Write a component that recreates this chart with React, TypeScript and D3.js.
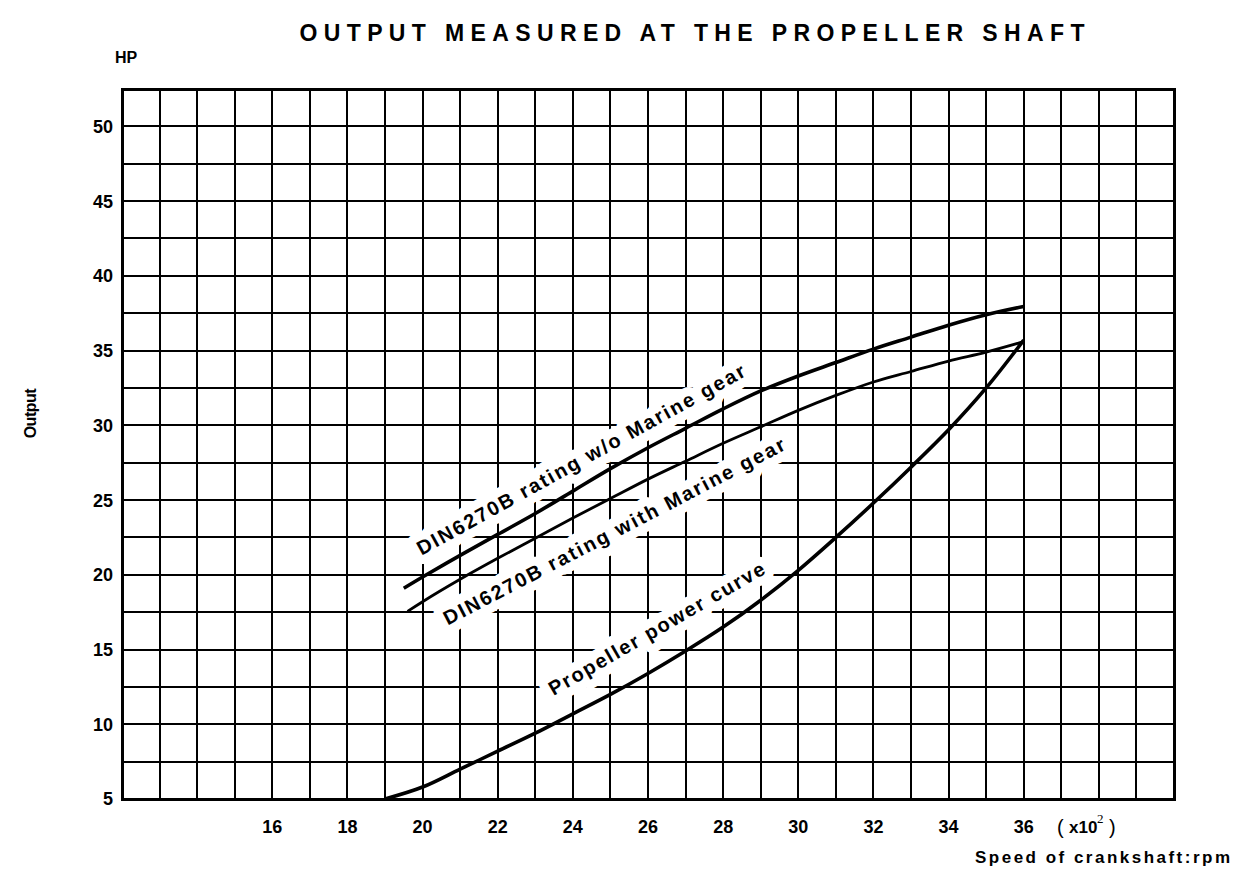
import React from 'react';
import * as d3 from 'd3';

// speed in rpm, output in HP
const withoutGear: [number, number][] = [
  [1950, 19.1], [2000, 19.85], [2100, 21.3], [2200, 22.7], [2300, 24.1], [2400, 25.6],
  [2500, 27.1], [2600, 28.5], [2700, 29.8], [2800, 31.1], [2900, 32.3], [3000, 33.3],
  [3100, 34.2], [3200, 35.1], [3300, 35.9], [3400, 36.7], [3500, 37.4], [3600, 37.95]
];
const withGear: [number, number][] = [
  [1960, 17.55], [2000, 18.2], [2100, 19.7], [2200, 21.1], [2300, 22.45], [2400, 23.8],
  [2500, 25.1], [2600, 26.4], [2700, 27.6], [2800, 28.8], [2900, 29.9], [3000, 31.0],
  [3100, 32.0], [3200, 32.9], [3300, 33.6], [3400, 34.3], [3500, 34.9], [3600, 35.6]
];
const propeller: [number, number][] = [
  [1900, 5.0], [2000, 5.8], [2100, 7.0], [2200, 8.2], [2300, 9.4], [2400, 10.7],
  [2500, 12.0], [2600, 13.4], [2700, 14.9], [2800, 16.5], [2900, 18.3], [3000, 20.3],
  [3100, 22.5], [3200, 24.8], [3300, 27.2], [3400, 29.7], [3500, 32.5], [3600, 35.7]
];

const rpmTicks = [16, 18, 20, 22, 24, 26, 28, 30, 32, 34, 36];
const hpTicks = [5, 10, 15, 20, 25, 30, 35, 40, 45, 50];

// curve labels: baseline middle in data units, angle, drawn length
const curveLabels = [
  { text: 'DIN6270B rating w/o Marine gear', rpm: 2430, hp: 27.3, angle: -29, len: 372 },
  { text: 'DIN6270B rating with Marine gear', rpm: 2518, hp: 22.5, angle: -27.5, len: 382 },
  { text: 'Propeller power curve', rpm: 2632, hp: 16.0, angle: -30, len: 246 }
];

const W = 1255;
const H = 869;
const font = '"Liberation Sans", Arial, Helvetica, sans-serif';
const narrow = '"Liberation Sans Narrow", "Liberation Sans", Arial, sans-serif';

export default function App() {
  const x = d3.scaleLinear().domain([1200, 4000]).range([122, 1174]);
  const y = d3.scaleLinear().domain([5, 52.5]).range([799, 89]);

  const vLines = d3.range(1200, 4001, 100);
  const hLines = d3.range(0, 20).map(i => 5 + i * 2.5);

  const line = d3.line<[number, number]>()
    .x(d => x(d[0]))
    .y(d => y(d[1]))
    .curve(d3.curveCatmullRom);

  const labelProps = (l: typeof curveLabels[0]) => ({
    transform: `translate(${x(l.rpm)},${y(l.hp)}) rotate(${l.angle})`,
    textAnchor: 'middle' as const,
    fontFamily: font,
    fontWeight: 'bold' as const,
    fontSize: 20,
    textLength: l.len,
    lengthAdjust: 'spacing'
  });

  return (
    <svg width={W} height={H} style={{ position: 'absolute', left: 0, top: 0, background: '#fff' }}>
      <rect width={W} height={H} fill="#fff" />

      <text x={692} y={41} textAnchor="middle" fontFamily={font} fontWeight="bold" fontSize={23}
        textLength={785} lengthAdjust="spacing">OUTPUT MEASURED AT THE  PROPELLER SHAFT</text>
      <text x={115} y={63} fontFamily={font} fontWeight="bold" fontSize={16}>HP</text>

      {/* grid */}
      <g stroke="#000" shapeRendering="crispEdges" strokeWidth={2}>
        {vLines.map(v => (
          <line key={'v' + v} x1={Math.round(x(v))} x2={Math.round(x(v))} y1={y(52.5)} y2={y(5)} />
        ))}
        {hLines.map(h => (
          <line key={'h' + h} x1={x(1200)} x2={x(4000)} y1={Math.round(y(h))} y2={Math.round(y(h))} />
        ))}
        <rect x={x(1200)} y={y(52.5)} width={x(4000) - x(1200)} height={y(5) - y(52.5)}
          fill="none" strokeWidth={3} />
      </g>

      {/* white bands behind curve labels */}
      {curveLabels.map(l => (
        <text key={'halo' + l.text} {...labelProps(l)} fill="#fff" stroke="#fff" strokeWidth={18}
          strokeLinejoin="round">{l.text}</text>
      ))}

      {/* curves */}
      <path d={line(withoutGear) || ''} fill="none" stroke="#000" strokeWidth={3.6} />
      <path d={line(withGear) || ''} fill="none" stroke="#000" strokeWidth={2.8} />
      <path d={line(propeller) || ''} fill="none" stroke="#000" strokeWidth={3.6} />

      {curveLabels.map(l => (
        <text key={l.text} {...labelProps(l)} fill="#000">{l.text}</text>
      ))}

      {/* y ticks */}
      {hpTicks.map(t => (
        <text key={'yt' + t} x={113} y={y(t)} dy="0.36em" textAnchor="end" fontFamily={narrow}
          fontWeight="bold" fontSize={18}>{t}</text>
      ))}
      <text transform={`translate(36,${y(30.8)}) rotate(-90)`} textAnchor="middle" fontFamily={font}
        fontWeight="bold" fontSize={16} textLength={50} lengthAdjust="spacing">Output</text>

      {/* x ticks */}
      {rpmTicks.map(t => (
        <text key={'xt' + t} x={x(t * 100)} y={833} textAnchor="middle" fontFamily={narrow}
          fontWeight="bold" fontSize={18}>{t}</text>
      ))}
      <text x={1057} y={834} fontFamily={font} fontSize={20}>(</text>
      <text x={1069} y={833} fontFamily={narrow} fontWeight="bold" fontSize={17}>x10</text>
      <text x={1097} y={823} fontFamily="serif" fontSize={13}>2</text>
      <text x={1109} y={834} fontFamily={font} fontSize={20}>)</text>
      <text x={975} y={863} fontFamily={font} fontWeight="bold" fontSize={17}
        textLength={255} lengthAdjust="spacing">Speed of crankshaft:rpm</text>
    </svg>
  );
}
